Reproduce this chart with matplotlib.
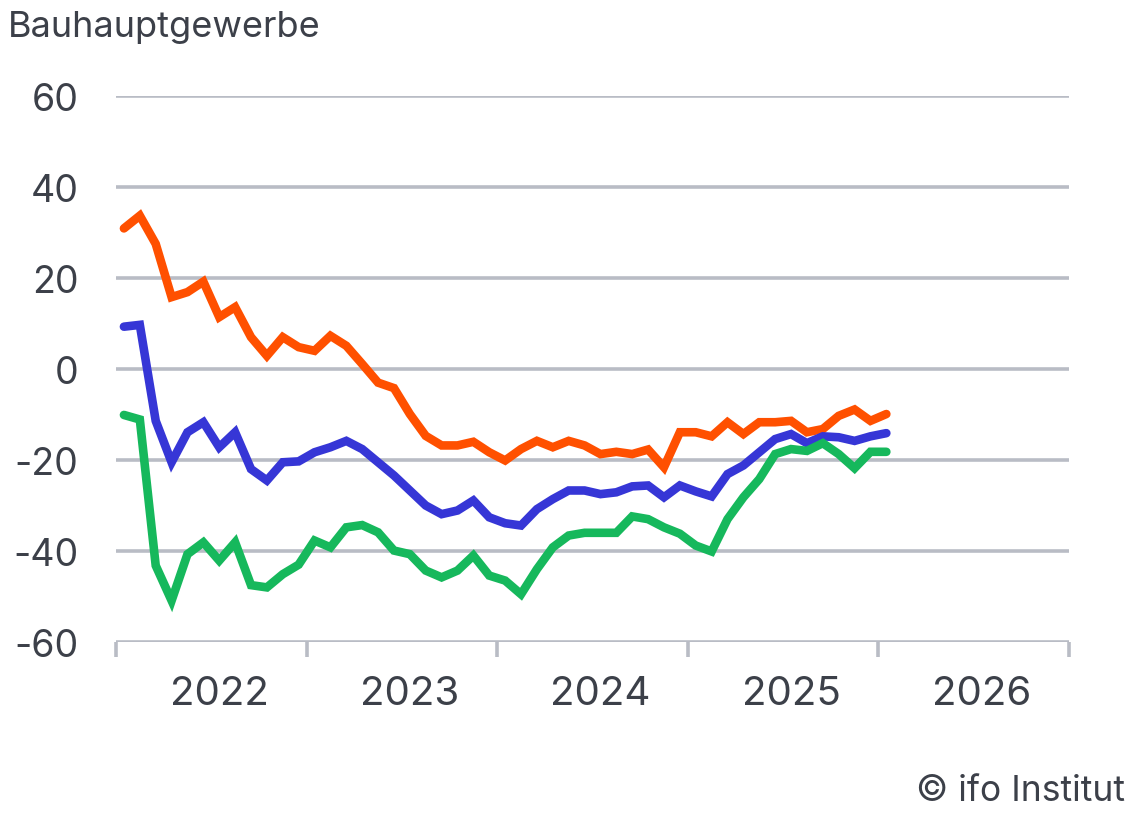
import numpy as np
import matplotlib
matplotlib.use("Agg")
import matplotlib.pyplot as plt

# Monatswerte Jan 2022 bis Jan 2026 (Salden)
start_year = 2022
orange = [30.9, 33.7, 27.5, 15.8, 16.9, 19.2, 11.4, 13.6, 7.0, 2.9, 7.0, 4.8,
          4.0, 7.3, 5.1, 1.1, -3.0, -4.2, -9.9, -14.7, -16.8, -16.8, -16.0, -18.3,
          -20.1, -17.6, -15.8, -17.2, -15.8, -16.8, -18.7, -18.2, -18.7, -17.7, -21.6, -13.9,
          -13.9, -14.8, -11.7, -14.3, -11.7, -11.7, -11.4, -13.9, -13.2, -10.3, -8.9, -11.4,
          -9.9]
blue = [9.3, 9.7, -11.4, -20.5, -13.9, -11.7, -17.2, -13.9, -22.0, -24.5, -20.5, -20.3,
        -18.3, -17.2, -15.8, -17.6, -20.5, -23.4, -26.7, -30.0, -31.9, -31.1, -28.9, -32.6,
        -33.9, -34.4, -30.8, -28.6, -26.7, -26.7, -27.5, -27.1, -25.8, -25.6, -28.2, -25.6,
        -26.9, -28.0, -23.1, -21.2, -18.3, -15.4, -14.3, -16.3, -14.8, -15.0, -15.8, -14.8,
        -14.1]
green = [-10.1, -11.1, -43.2, -50.9, -40.7, -38.1, -42.1, -38.1, -47.5, -48.0, -45.1, -43.0,
         -37.7, -39.2, -34.8, -34.3, -35.9, -39.9, -40.7, -44.3, -45.8, -44.3, -41.0, -45.4,
         -46.5, -49.5, -44.0, -39.2, -36.6, -36.0, -36.0, -36.0, -32.4, -33.0, -34.8, -36.2,
         -38.8, -40.1, -33.0, -28.2, -24.2, -18.7, -17.6, -18.0, -16.3, -18.7, -21.8, -18.2,
         -18.2]
years = [2022, 2023, 2024, 2025, 2026]
y_ticks = [60, 40, 20, 0, -20, -40, -60]

text_col = "#3c4049"
grid_col = "#b9bcc5"

plt.rcParams['font.family'] = ['Inter', 'DejaVu Sans']

# Monatsmitte als Position
x = start_year + (np.arange(len(orange)) + 0.5) / 12.0

fig = plt.figure(figsize=(11.44, 8.2), dpi=100)
ax = fig.add_axes([116 / 1144, 1 - 643 / 820, (1069 - 116) / 1144, (643 - 97) / 820])

for yt in y_ticks:
    ax.axhline(yt, color=grid_col, lw=2.6, zorder=1, solid_capstyle='butt')

for vals, col in [(orange, "#ff5000"), (blue, "#3636d6"), (green, "#16b85c")]:
    ax.plot(x, vals, color=col, lw=6.2, solid_capstyle='round', solid_joinstyle='miter', zorder=3)

ax.set_xlim(2022, 2027)
ax.set_ylim(-60, 60)
for s in ax.spines.values():
    s.set_visible(False)

ax.set_yticks(y_ticks)
ax.set_yticklabels([str(v) for v in y_ticks], fontsize=27, color=text_col)
ax.tick_params(axis='y', length=0, pad=27)

# Jahresgrenzen als Ticks, Beschriftung dazwischen
ax.set_xticks(list(range(2022, 2028)))
ax.set_xticklabels([])
ax.tick_params(axis='x', length=11, width=2.6, color=grid_col, direction='out')
ax.set_xticks([yr + 0.542 for yr in years], minor=True)
ax.set_xticklabels([str(yr) for yr in years], minor=True, fontsize=29, color=text_col)
ax.tick_params(axis='x', which='minor', length=0, pad=24)

fig.text(8 / 1144, 1 - 28 / 820, "Bauhauptgewerbe", fontsize=26, color=text_col,
         ha='left', va='center')
fig.text(1125 / 1144, 1 - 792 / 820, "© ifo Institut", fontsize=25.5, color=text_col,
         ha='right', va='center')

plt.savefig("out.png", dpi=100)
